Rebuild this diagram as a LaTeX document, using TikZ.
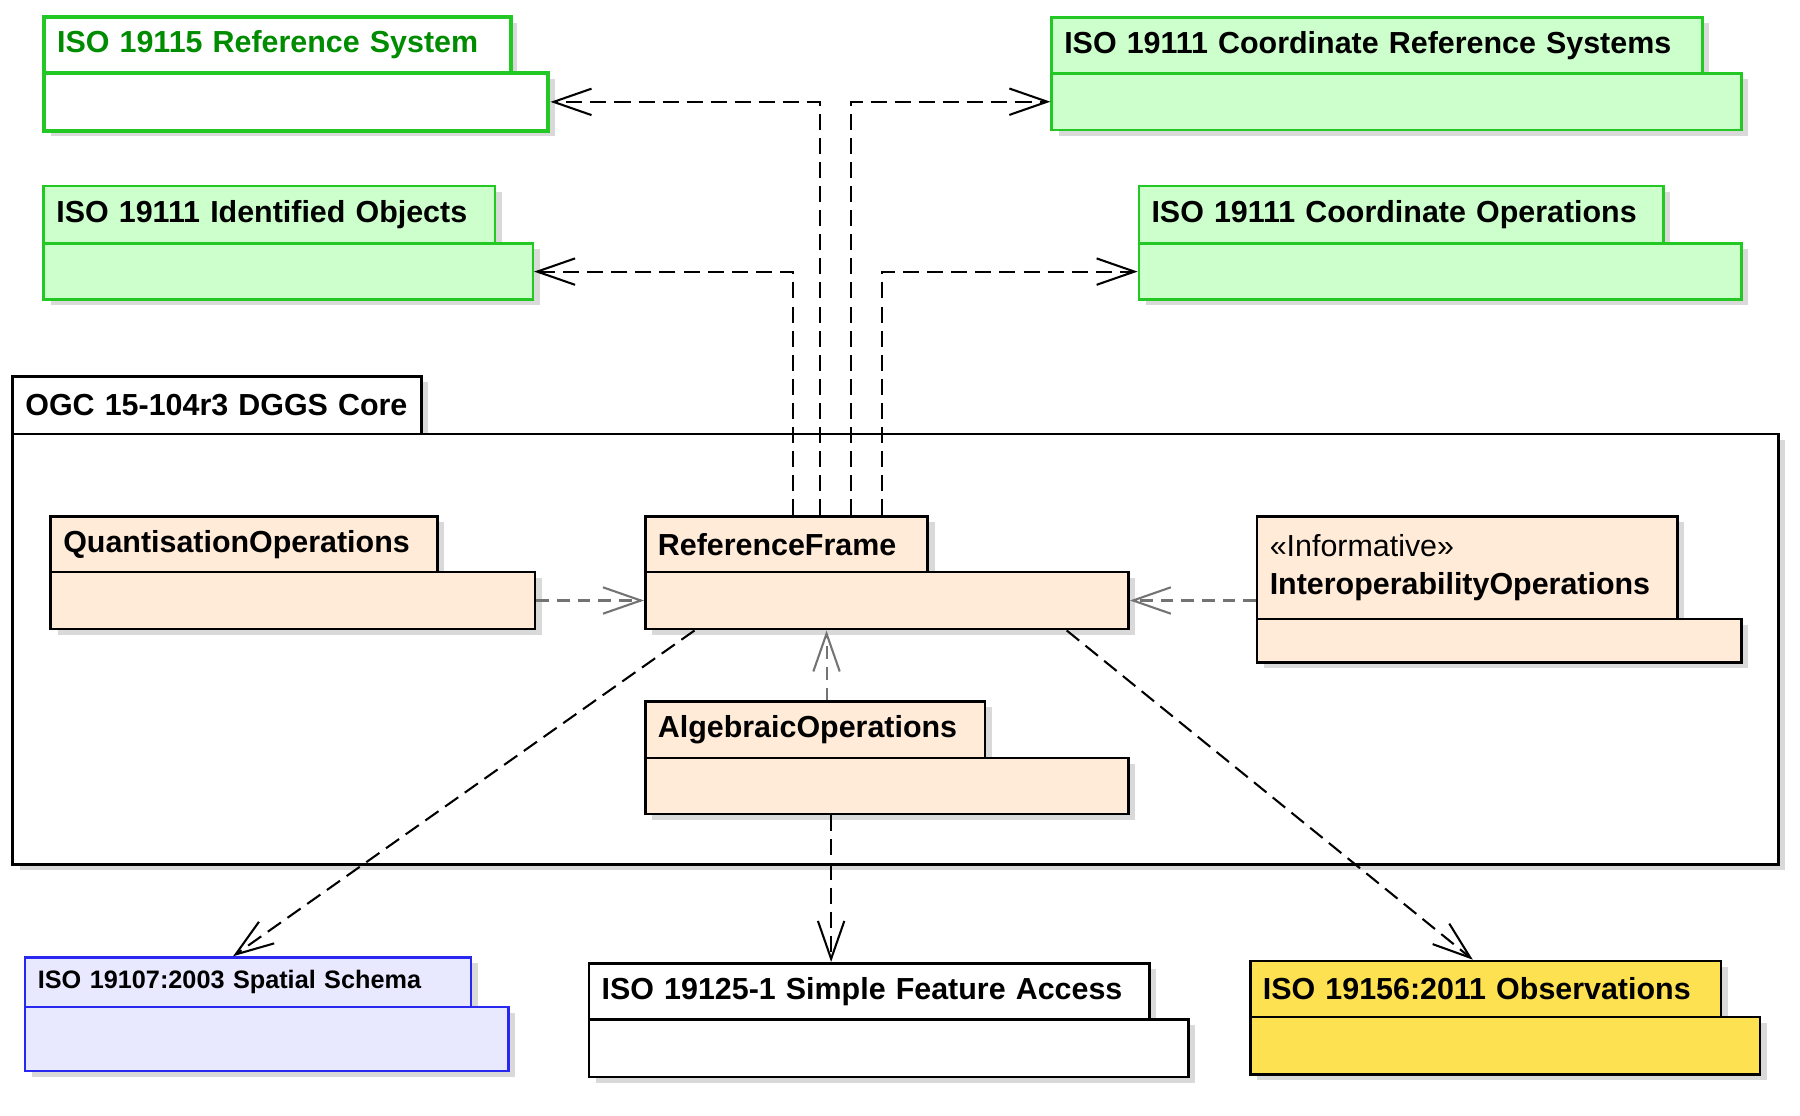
\documentclass[tikz,border=0pt]{standalone}
\usepackage{fontspec}
\setmainfont{Liberation Sans}
\usepackage{xcolor}
\usepackage{tikz}
\usetikzlibrary{arrows.meta,shadows}

\definecolor{isogreen}{RGB}{36,200,36}
\definecolor{isotext}{RGB}{0,140,0}
\definecolor{isofill}{RGB}{204,255,204}
\definecolor{dggsfill}{RGB}{255,235,215}
\definecolor{schemablue}{RGB}{40,40,240}
\definecolor{schemafill}{RGB}{232,232,255}
\definecolor{obsfill}{RGB}{253,225,80}

\begin{document}
\begin{tikzpicture}[x=1pt, y=-1pt,
    font=\fontsize{26.5}{34}\selectfont\bfseries,
    shade/.style={drop shadow={shadow xshift=6pt, shadow yshift=-5pt, fill=black!15, opacity=1}},
    pkgtab/.style={rectangle, draw, line width=2.2pt, anchor=north west, align=left,
        inner xsep=11pt, inner ysep=0pt, text width=#1, shade},
    pkgbody/.style={rectangle, draw, line width=2.2pt, anchor=north west, inner sep=0pt, shade},
    isopkg/.style={draw=isogreen, fill=isofill},
    dggspkg/.style={fill=dggsfill},
    dep/.style={draw=black, line width=1.8pt, dash pattern=on 14pt off 7pt,
        -{Straight Barb[length=33pt, width=23pt]}},
    gdep/.style={dep, draw=black!55, dash pattern=on 11pt off 7pt}
]
\useasboundingbox (0,0) rectangle (1568,972);

% Core package
\node[pkgtab=334pt, fill=white, minimum height=50] (coretab) at (10,327) {OGC 15-104r3 DGGS Core};
\node[pkgbody, fill=white, minimum width=1538, minimum height=375] (corebody) at (10,377) {};

% ISO packages
\node[pkgtab=384pt, fill=white, draw=isogreen, line width=3.5pt, text=isotext, minimum height=49] (rstab) at (37,13) {ISO 19115 Reference System};
\node[pkgbody, fill=white, draw=isogreen, line width=3.5pt, minimum width=439, minimum height=50] (rsbody) at (37,62) {};

\node[pkgtab=545pt, isopkg, minimum height=49] (crstab) at (915,14) {ISO 19111 Coordinate Reference Systems};
\node[pkgbody, isopkg, minimum width=601, minimum height=49] (crsbody) at (915,63) {};

\node[pkgtab=371pt, isopkg, minimum height=50] (idtab) at (37,161) {ISO 19111 Identified Objects};
\node[pkgbody, isopkg, minimum width=426, minimum height=49] (idbody) at (37,211) {};

\node[pkgtab=435pt, isopkg, minimum height=50] (cotab) at (991,161) {ISO 19111 Coordinate Operations};
\node[pkgbody, isopkg, minimum width=525, minimum height=49] (cobody) at (991,211) {};

% DGGS packages
\node[pkgtab=315pt, dggspkg, minimum height=48] (qotab) at (43,449) {QuantisationOperations};
\node[pkgbody, dggspkg, minimum width=422, minimum height=50] (qobody) at (43,497) {};

\node[pkgtab=224pt, dggspkg, minimum height=48] (rftab) at (561,449) {ReferenceFrame};
\node[pkgbody, dggspkg, minimum width=421, minimum height=50] (rfbody) at (561,497) {};

\node[pkgtab=344pt, dggspkg, minimum height=89, font=\fontsize{26.5}{33}\selectfont\bfseries] (iotab) at (1094,449) {{\mdseries «Informative»}\\InteroperabilityOperations\\[-8pt]};
\node[pkgbody, dggspkg, minimum width=422, minimum height=38] (iobody) at (1094,538) {};

\node[pkgtab=274pt, dggspkg, minimum height=49] (aotab) at (561,610) {AlgebraicOperations};
\node[pkgbody, dggspkg, minimum width=421, minimum height=49] (aobody) at (561,659) {};

% Other packages
\node[pkgtab=366pt, draw=schemablue, line width=2pt, fill=schemafill, minimum height=43,
    font=\fontsize{22}{26}\selectfont\bfseries] (sstab) at (21,833) {ISO 19107:2003 Spatial Schema};
\node[pkgbody, draw=schemablue, line width=2pt, fill=schemafill, minimum width=421, minimum height=56] (ssbody) at (21,876) {};

\node[pkgtab=466pt, fill=white, minimum height=49] (sftab) at (512,838) {ISO 19125-1 Simple Feature Access};
\node[pkgbody, fill=white, minimum width=522, minimum height=50] (sfbody) at (512,887) {};

\node[pkgtab=388pt, fill=obsfill, minimum height=49] (obtab) at (1088,836) {ISO 19156:2011 Observations};
\node[pkgbody, fill=obsfill, minimum width=444, minimum height=50] (obbody) at (1088,885) {};

% Dependencies
\draw[dep] ([xshift=153]rftab.north west) |- (rsbody.east);
\draw[dep] ([xshift=180]rftab.north west) |- (crsbody.west);
\draw[dep] ([xshift=130]rftab.north west) |- (idbody.east);
\draw[dep] ([xshift=207]rftab.north west) |- (cobody.west);
\draw[gdep] (qobody.east) -- (rfbody.west);
\draw[gdep] (iotab.west |- rfbody.east) -- (rfbody.east);
\draw[gdep] ([xshift=159]aotab.north west) -- ([xshift=159]rfbody.south west);
\draw[dep] ([xshift=163]aobody.south west) -- ([xshift=212]sftab.north west);
\draw[dep] ([xshift=44]rfbody.south west) -- ([xshift=182]sstab.north west);
\draw[dep] ([xshift=-55]rfbody.south east) -- ([xshift=195]obtab.north west);

\end{tikzpicture}
\end{document}
